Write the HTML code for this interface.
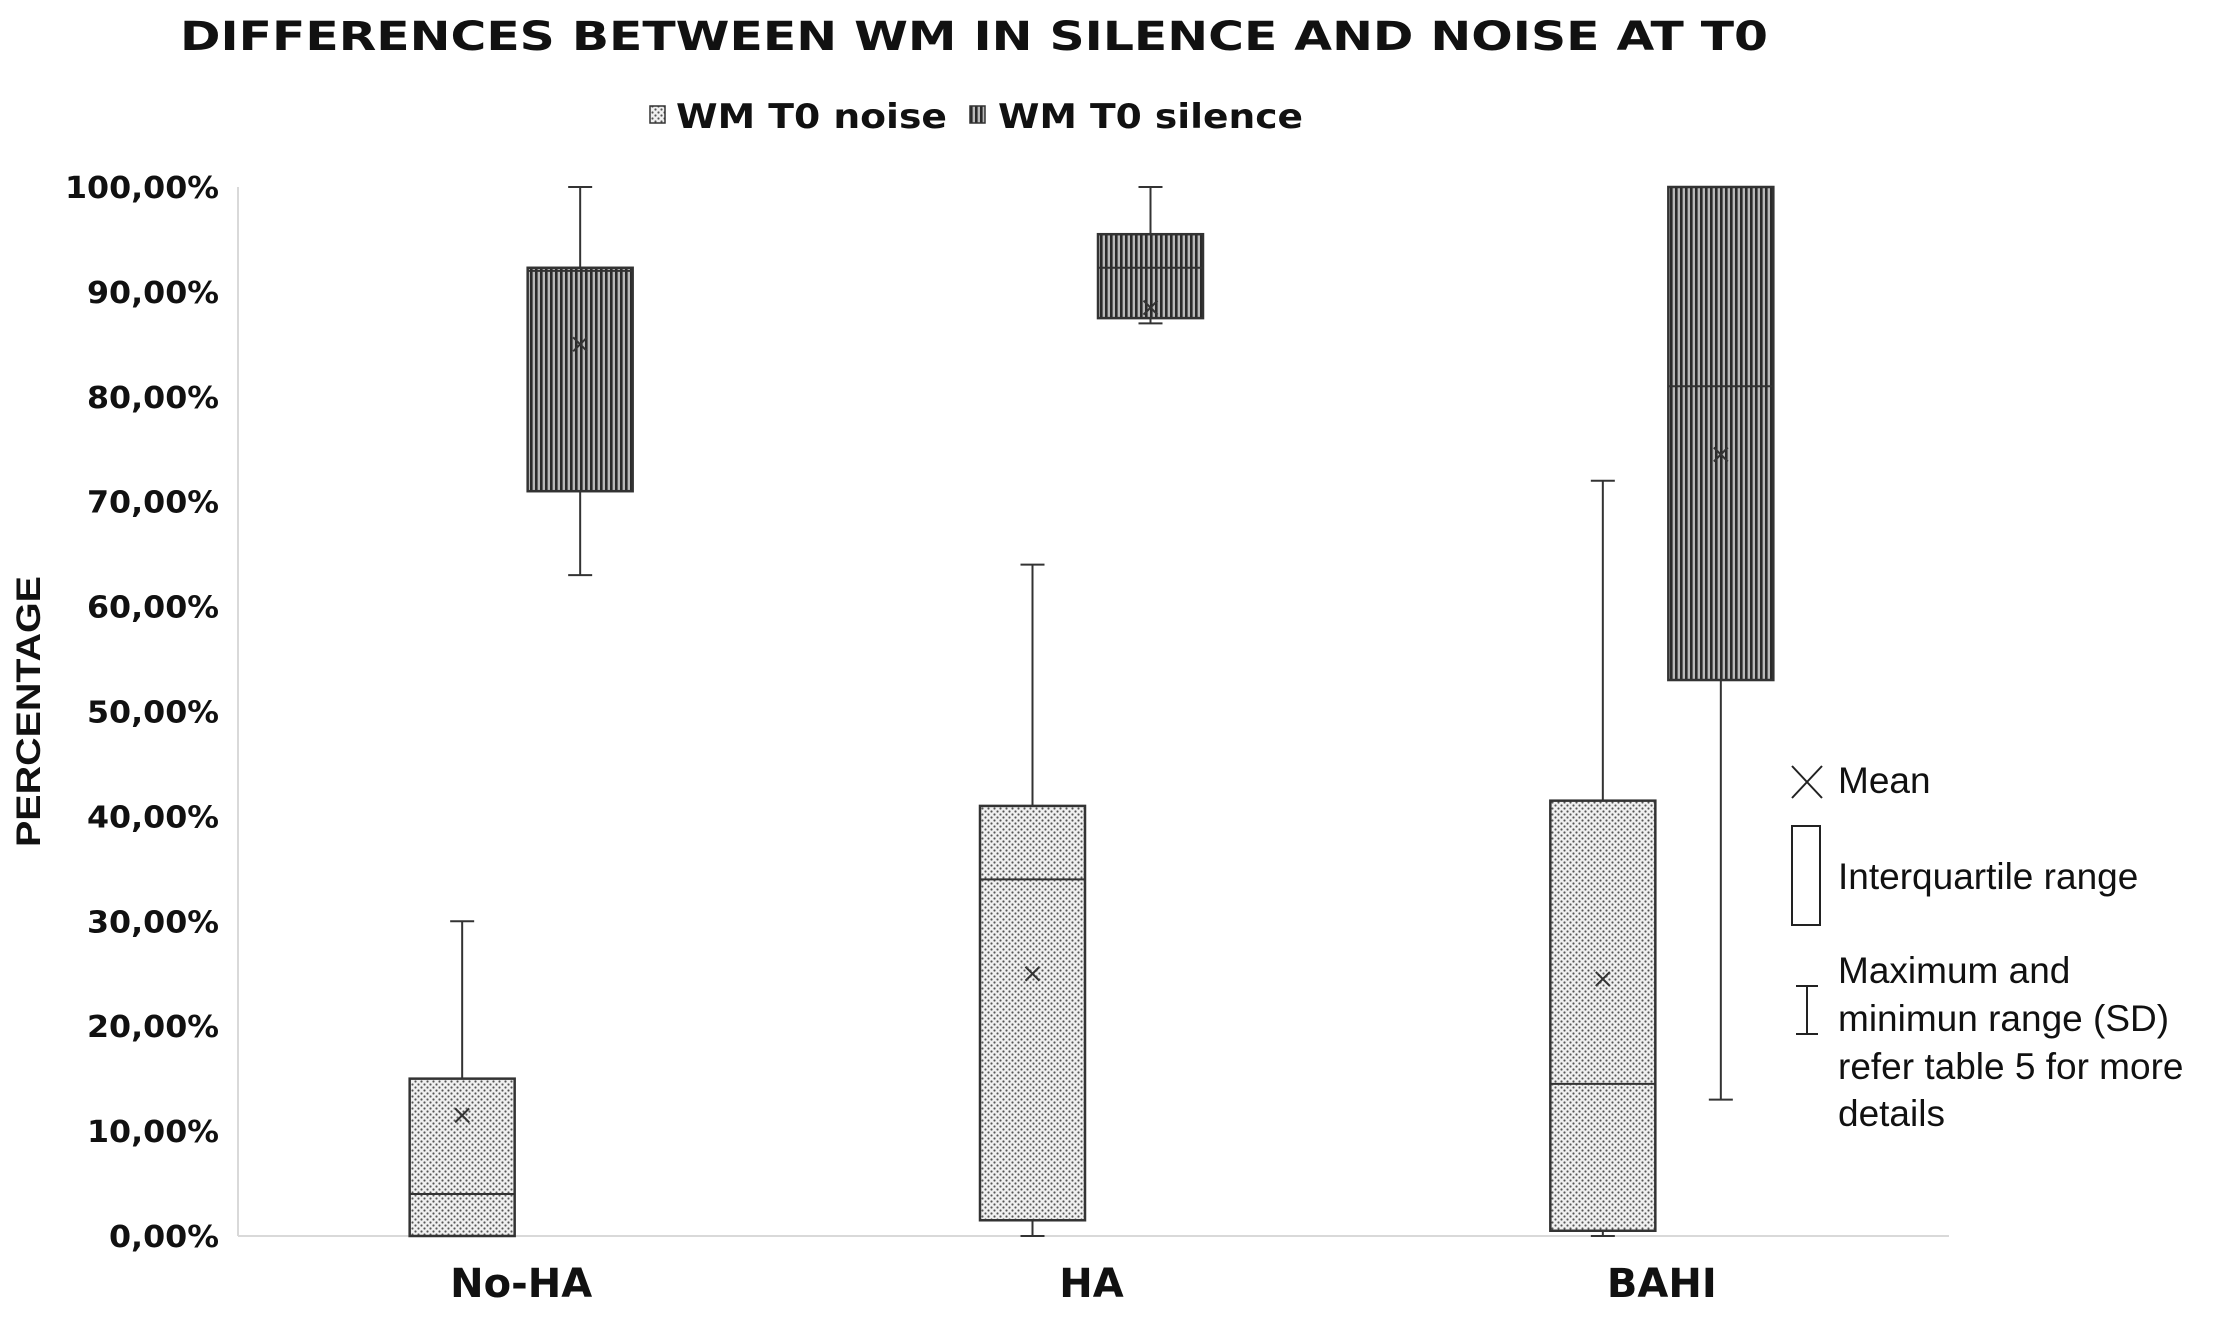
<!DOCTYPE html>
<html><head><meta charset="utf-8"><style>
html,body{margin:0;padding:0;background:#fff}
svg{display:block}
text{font-family:"Liberation Sans",Arial,sans-serif;fill:#111}
.w{font-family:"DejaVu Sans","Liberation Sans",sans-serif}
</style></head><body>
<svg id="chart" width="2217" height="1323" viewBox="0 0 2217 1323">
<defs>
<pattern id="dots" width="6" height="6" patternUnits="userSpaceOnUse">
<rect width="6" height="6" fill="#f0f0f0"/><circle cx="1.5" cy="1.5" r="1.1" fill="#555"/><circle cx="4.5" cy="4.5" r="1.1" fill="#555"/>
</pattern>
<pattern id="stripes" width="5" height="5" patternUnits="userSpaceOnUse">
<rect width="5" height="5" fill="#b8b8b8"/><rect width="2.6" height="5" fill="#2a2a2a"/>
</pattern>
</defs>
<text class="w" x="180" y="50" textLength="1588" lengthAdjust="spacingAndGlyphs" font-size="40" font-weight="bold">DIFFERENCES BETWEEN WM IN SILENCE AND NOISE AT T0</text>
<g>
<rect x="650" y="106" width="15" height="17" fill="url(#dots)" stroke="#333" stroke-width="1.5"/>
<text class="w" x="676" y="128" textLength="271" lengthAdjust="spacingAndGlyphs" font-size="34" font-weight="bold">WM T0 noise</text>
<rect x="970" y="106" width="15" height="17" fill="url(#stripes)" stroke="#333" stroke-width="1.5"/>
<text class="w" x="998" y="128" textLength="305" lengthAdjust="spacingAndGlyphs" font-size="34" font-weight="bold">WM T0 silence</text>
</g>
<text transform="translate(40,712) rotate(-90)" x="-135" y="0" textLength="271" lengthAdjust="spacingAndGlyphs" font-size="34" font-weight="bold">PERCENTAGE</text>
<g id="axes"></g>
<g id="boxes"></g>
<g>
<path d="M1792 766 L1822 798 M1822 766 L1792 798" stroke="#222" stroke-width="2" fill="none"/>
<text x="1838" y="793" font-size="37">Mean</text>
<rect x="1792" y="826" width="28" height="99" fill="#fff" stroke="#222" stroke-width="2"/>
<text x="1838" y="889" font-size="37">Interquartile range</text>
<path d="M1796 986 H1818 M1807 986 V1034 M1796 1034 H1818" stroke="#222" stroke-width="2" fill="none"/>
<text font-size="37"><tspan x="1838" y="983">Maximum and</tspan><tspan x="1838" y="1031">minimun range (SD)</tspan><tspan x="1838" y="1079">refer table 5 for more</tspan><tspan x="1838" y="1126">details</tspan></text>
</g>
</svg>
<script>
const categories = ["No-HA", "HA", "BAHI"];
const noiseMin = [0, 0, 0];
const noiseQ1 = [0, 1.5, 0.5];
const noiseMedian = [4, 34, 14.5];
const noiseQ3 = [15, 41, 41.5];
const noiseMax = [30, 64, 72];
const noiseMean = [11.5, 25, 24.5];
const silenceMin = [63, 87, 13];
const silenceQ1 = [71, 87.5, 53];
const silenceMedian = [92, 92.3, 81];
const silenceQ3 = [92.3, 95.5, 100];
const silenceMax = [100, 100, 100];
const silenceMean = [85, 88.5, 74.5];
const yTicks = [0,10,20,30,40,50,60,70,80,90,100];
const yTickLabels = ["0,00%","10,00%","20,00%","30,00%","40,00%","50,00%","60,00%","70,00%","80,00%","90,00%","100,00%"];

const NS = "http://www.w3.org/2000/svg";
const X0 = 238, X1 = 1949, Y0 = 1236, Y100 = 187;
const y = v => Y0 - (v/100)*(Y0-Y100);
const groupW = (X1-X0)/categories.length;
const xc = i => X0 + groupW*(i+0.5);
const boxW = 105;
function mk(tag, attrs, parent){const e=document.createElementNS(NS,tag);for(const k in attrs)e.setAttribute(k,attrs[k]);parent.appendChild(e);return e;}
const axes = document.getElementById('axes');
const boxes = document.getElementById('boxes');
let ax = mk('line',{x1:X0,y1:Y100,x2:X0,y2:Y0,stroke:'#d9d9d9','stroke-width':2},axes);


let bx = mk('line',{x1:X0,y1:Y0,x2:X1,y2:Y0,stroke:'#d9d9d9','stroke-width':2},axes);


yTicks.forEach((t,i)=>{
  const lab = yTickLabels[i];
  const len = 22*lab.length;
  const e = mk('text',{class:'w',x:219-len,y:y(t)+11,textLength:len,lengthAdjust:'spacingAndGlyphs','font-size':30,'font-weight':'bold'},axes);
  e.textContent = lab;
  
  
});
categories.forEach((c,i)=>{
  const e = mk('text',{class:'w',x:xc(i)-2,y:1297,'text-anchor':'middle','font-size':40,'font-weight':'bold'},axes);
  e.textContent = c;
  
  
});
function drawBox(cx, mn, q1, md, q3, mx, mean, fill, name){
  const g = mk('g',{},boxes);
  
  
  const s = {stroke:'#333','stroke-width':2,fill:'none'};
  mk('line',Object.assign({x1:cx,y1:y(mx),x2:cx,y2:y(q3)},s),g);
  mk('line',Object.assign({x1:cx,y1:y(q1),x2:cx,y2:y(mn)},s),g);
  mk('line',Object.assign({x1:cx-12,y1:y(mx),x2:cx+12,y2:y(mx)},s),g);
  mk('line',Object.assign({x1:cx-12,y1:y(mn),x2:cx+12,y2:y(mn)},s),g);
  mk('rect',{x:cx-boxW/2,y:y(q3),width:boxW,height:y(q1)-y(q3),fill:fill,stroke:'#333','stroke-width':2.5},g);
  mk('line',Object.assign({x1:cx-boxW/2,y1:y(md),x2:cx+boxW/2,y2:y(md)},s),g);
  const m=y(mean);
  mk('path',Object.assign({d:`M${cx-7} ${m-7}L${cx+7} ${m+7}M${cx+7} ${m-7}L${cx-7} ${m+7}`},s),g);
}
categories.forEach((c,i)=>{
  drawBox(xc(i)-61, noiseMin[i], noiseQ1[i], noiseMedian[i], noiseQ3[i], noiseMax[i], noiseMean[i], 'url(#dots)', 'box-noise-'+c.toLowerCase());
  drawBox(xc(i)+57, silenceMin[i], silenceQ1[i], silenceMedian[i], silenceQ3[i], silenceMax[i], silenceMean[i], 'url(#stripes)', 'box-silence-'+c.toLowerCase());
});
</script>
</body></html>
